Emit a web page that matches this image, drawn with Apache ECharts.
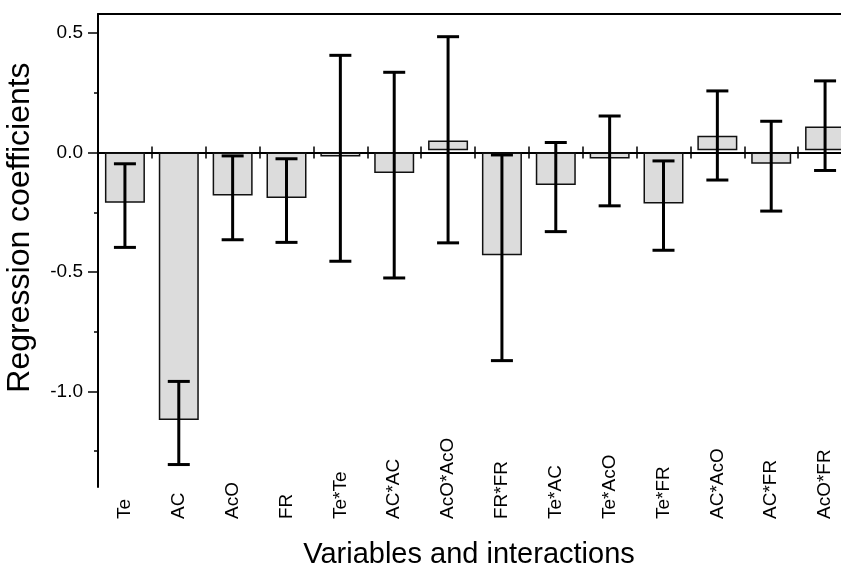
<!DOCTYPE html>
<html>
<head>
<meta charset="utf-8">
<script src="https://cdn.jsdelivr.net/npm/echarts@6/dist/echarts.min.js"></script>
<style>
  html, body { margin: 0; padding: 0; background: #fff; }
  #chart { width: 841px; height: 573px; }
</style>
</head>
<body>
<div id="chart"></div>
<script>
// categories
const terms = ['Te', 'AC', 'AcO', 'FR', 'Te*Te', 'AC*AC', 'AcO*AcO', 'FR*FR',
  'Te*AC', 'Te*AcO', 'Te*FR', 'AC*AcO', 'AC*FR', 'AcO*FR']

// regression coefficients (bar heights)
const coef = [-0.21, -1.12, -0.18, -0.19, -0.017, -0.086, 0.05, -0.43,
  -0.136, -0.025, -0.213, 0.07, -0.047, 0.109]

// error bar ends
const errLow = [-0.397, -1.306, -0.365, -0.376, -0.455, -0.525, -0.378, -0.871,
  -0.331, -0.223, -0.409, -0.115, -0.245, -0.075]
const errHigh = [-0.047, -0.958, -0.014, -0.026, 0.407, 0.336, 0.485, -0.010,
  0.042, 0.153, -0.035, 0.258, 0.131, 0.300]

// y ticks
const yLabels = [-1.0, -0.5, 0.0, 0.5]
const yMinor = [-1.25, -0.75, -0.25, 0.25]

const FONT = '"Liberation Sans", Arial, sans-serif'

// positive bars sit slightly above the zero line in the original
const lift = coef.map(v => (v > 0 ? 0.01 : 0))
const body = coef.map((v, i) => v - lift[i])

const chart = echarts.init(document.getElementById('chart'), null, { renderer: 'canvas' })

const yRange = { min: -1.4, max: 0.58 }

chart.setOption({
  animation: false,
  backgroundColor: '#fff',
  textStyle: { fontFamily: FONT },
  grid: {
    left: 98,
    right: -11,
    top: 14,
    bottom: 86,
    outerBoundsMode: 'none',
    containLabel: false
  },
  xAxis: [
    {
      // tick labels, text starts low and runs upward
      type: 'category',
      data: terms,
      position: 'bottom',
      axisLine: { show: false, onZero: false },
      axisTick: { show: false },
      axisLabel: {
        interval: 0,
        rotate: 90,
        align: 'left',
        margin: 32,
        fontSize: 19,
        color: '#000',
        fontFamily: FONT
      },
      name: 'Variables and interactions',
      nameLocation: 'middle',
      nameGap: 53,
      nameMoveOverlap: false,
      nameTextStyle: { fontSize: 29, color: '#000', fontFamily: FONT, padding: [0, 12, 0, 0] }
    },
    {
      // zero line, ticks pointing down
      type: 'category',
      data: terms,
      position: 'bottom',
      axisLine: { show: true, onZero: true, onZeroAxisIndex: 0, lineStyle: { color: '#000', width: 2 } },
      axisTick: { show: true, interval: 0, length: 6, lineStyle: { color: '#000', width: 1.5 } },
      axisLabel: { show: false }
    },
    {
      // zero line, ticks pointing up
      type: 'category',
      data: terms,
      position: 'top',
      axisLine: { show: false, onZero: true, onZeroAxisIndex: 0 },
      axisTick: { show: true, interval: 0, length: 6, lineStyle: { color: '#000', width: 1.5 } },
      axisLabel: { show: false }
    },
    {
      // top frame line
      type: 'category',
      data: terms,
      position: 'top',
      axisLine: { show: true, onZero: false, lineStyle: { color: '#000', width: 2 } },
      axisTick: { show: false },
      axisLabel: { show: false }
    }
  ],
  yAxis: [
    {
      type: 'value',
      min: yRange.min,
      max: yRange.max,
      position: 'left',
      axisLine: { show: true, onZero: false, lineStyle: { color: '#000', width: 2 } },
      axisTick: { show: true, length: 10, customValues: yLabels, lineStyle: { color: '#000', width: 1.5 } },
      axisLabel: {
        customValues: yLabels,
        formatter: v => v.toFixed(1),
        margin: 15,
        fontSize: 19,
        color: '#000',
        fontFamily: FONT
      },
      splitLine: { show: false },
      name: 'Regression coefficients',
      nameLocation: 'middle',
      nameGap: 62,
      nameMoveOverlap: false,
      nameTextStyle: { fontSize: 32, color: '#000', fontFamily: FONT, padding: [0, 0, 0, 46] }
    },
    {
      // minor ticks
      type: 'value',
      min: yRange.min,
      max: yRange.max,
      position: 'left',
      axisLine: { show: false, onZero: false },
      axisTick: { show: true, length: 4, customValues: yMinor, lineStyle: { color: '#000', width: 1.5 } },
      axisLabel: { show: false },
      splitLine: { show: false }
    }
  ],
  series: [
    {
      name: 'lift',
      type: 'bar',
      stack: 'c',
      barWidth: 40,
      silent: true,
      itemStyle: { color: 'rgba(0,0,0,0)' },
      data: lift
    },
    {
      name: 'coef',
      type: 'bar',
      stack: 'c',
      barWidth: 40,
      itemStyle: { color: '#dcdcdc', borderColor: '#111', borderWidth: 1.5 },
      data: body
    },
    {
      name: 'err',
      type: 'custom',
      z: 5,
      data: terms.map((t, i) => [i, errLow[i], errHigh[i]]),
      renderItem: (params, api) => {
        const lo = api.coord([api.value(0), api.value(1)])
        const hi = api.coord([api.value(0), api.value(2)])
        const half = 11
        const style = { stroke: '#000', lineWidth: 3 }
        return {
          type: 'group',
          children: [
            { type: 'line', shape: { x1: hi[0], y1: hi[1], x2: lo[0], y2: lo[1] }, style },
            { type: 'line', shape: { x1: hi[0] - half, y1: hi[1], x2: hi[0] + half, y2: hi[1] }, style },
            { type: 'line', shape: { x1: lo[0] - half, y1: lo[1], x2: lo[0] + half, y2: lo[1] }, style }
          ]
        }
      }
    }
  ]
})
</script>
</body>
</html>
